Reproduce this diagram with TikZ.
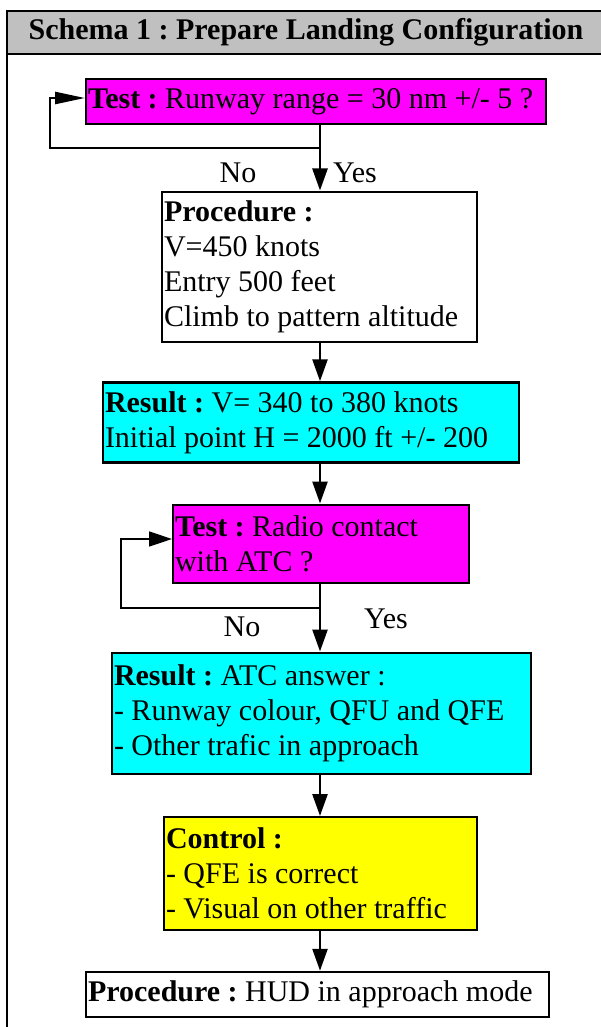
\documentclass[tikz,border=0pt]{standalone}
\usepackage{fontspec}
\setmainfont{Liberation Serif}
\usetikzlibrary{arrows.meta}
\definecolor{hdrgrey}{RGB}{192,192,192}
\definecolor{mag}{RGB}{255,0,255}
\definecolor{cyn}{RGB}{0,255,255}
\definecolor{yel}{RGB}{255,255,0}
\begin{document}
\frenchspacing
\begin{tikzpicture}[x=1pt,y=-1pt,
  box/.style={draw=black, line width=2pt, inner xsep=2pt, inner ysep=0pt, align=flush left,
    font=\fontsize{30}{35}\selectfont, anchor=center},
  lbl/.style={font=\fontsize{30}{35}\selectfont, inner sep=0pt},
  flow/.style={line width=2.5pt, -{Triangle[length=22pt,width=15pt]}},
  loopa/.style={line width=2.5pt, -{Triangle[length=30pt,width=12pt]}},
  loopb/.style={line width=1.5pt, -{Triangle[length=23pt,width=15pt]}},
  frame/.style={line width=2pt}
]
\useasboundingbox (0,0) rectangle (601,1027);
\clip (0,0) rectangle (601,1027);
% frame and header
\fill[hdrgrey] (7,11) rectangle (640,54);
\draw[frame] (640,11) -- (7,11) -- (7,1060);
\draw[frame] (7,54) -- (640,54);
\draw[frame] (640,1060) -- (640,11);
\node[lbl] (hdr) at (306,32) {\textbf{Schema 1 : Prepare Landing Configuration}};

% boxes
\node[box, fill=mag, minimum width=460pt, text width=456pt, minimum height=45pt] (t1) at (316,101.5)
  {\textbf{Test :} Runway range = 30 nm +/- 5 ?};
\node[box, fill=white, minimum width=315pt, text width=311pt, minimum height=150pt] (p1) at (319.5,266.5)
  {\textbf{Procedure :}\\V=450 knots\\Entry 500 feet\\Climb to pattern altitude};
\node[box, fill=cyn, line width=2.5pt, minimum width=416pt, text width=412pt, minimum height=80pt] (r1) at (311,422.5)
  {\textbf{Result :} V= 340 to 380 knots\\Initial point H = 2000 ft +/- 200};
\node[box, fill=mag, minimum width=296pt, text width=292pt, minimum height=78pt] (t2) at (321,543.5)
  {\textbf{Test :} Radio contact\\with ATC ?};
\node[box, fill=cyn, minimum width=419pt, text width=415pt, minimum height=121pt] (r2) at (321.5,713)
  {\textbf{Result :} ATC answer :\\- Runway colour, QFU and QFE\\- Other trafic in approach};
\node[box, fill=yel, minimum width=313pt, text width=309pt, minimum height=113pt] (c1) at (320.5,873.5)
  {\textbf{Control :}\\- QFE is correct\\- Visual on other traffic};
\node[box, fill=white, line width=2.5pt, minimum width=463pt, text width=459pt, minimum height=45pt] (p2) at (317.5,994.5)
  {\textbf{Procedure :} HUD in approach mode};

% junctions
\coordinate (j1) at (320,148);
\coordinate (l1a) at (50,148);
\coordinate (l1b) at (50,98);
\coordinate (j2) at (320,608);
\coordinate (l2a) at (121,608);
\coordinate (l2b) at (121,539);

% connectors
\draw[flow] (t1.south -| j1) -- (j1) -- (p1.north -| j1);
\draw[loopa] (j1) -- (l1a) -- (l1b) -- ([yshift=3.5pt]t1.west);
\draw[flow] (p1.south -| j1) -- (r1.north -| j1);
\draw[flow] (r1.south -| j1) -- (t2.north -| j1);
\draw[flow] (t2.south -| j2) -- (j2) -- (r2.north -| j2);
\draw[loopb] (j2) -- (l2a) -- (l2b) -- ([yshift=4.5pt]t2.west);
\draw[flow] (r2.south -| j1) -- (c1.north -| j1);
\draw[flow] (c1.south -| j1) -- (p2.north -| j1);

% labels
\node[lbl] (no1) at (238,173) {No};
\node[lbl] (yes1) at (355,173) {Yes};
\node[lbl] (no2) at (242,627) {No};
\node[lbl] (yes2) at (386,619) {Yes};
\end{tikzpicture}
\end{document}
